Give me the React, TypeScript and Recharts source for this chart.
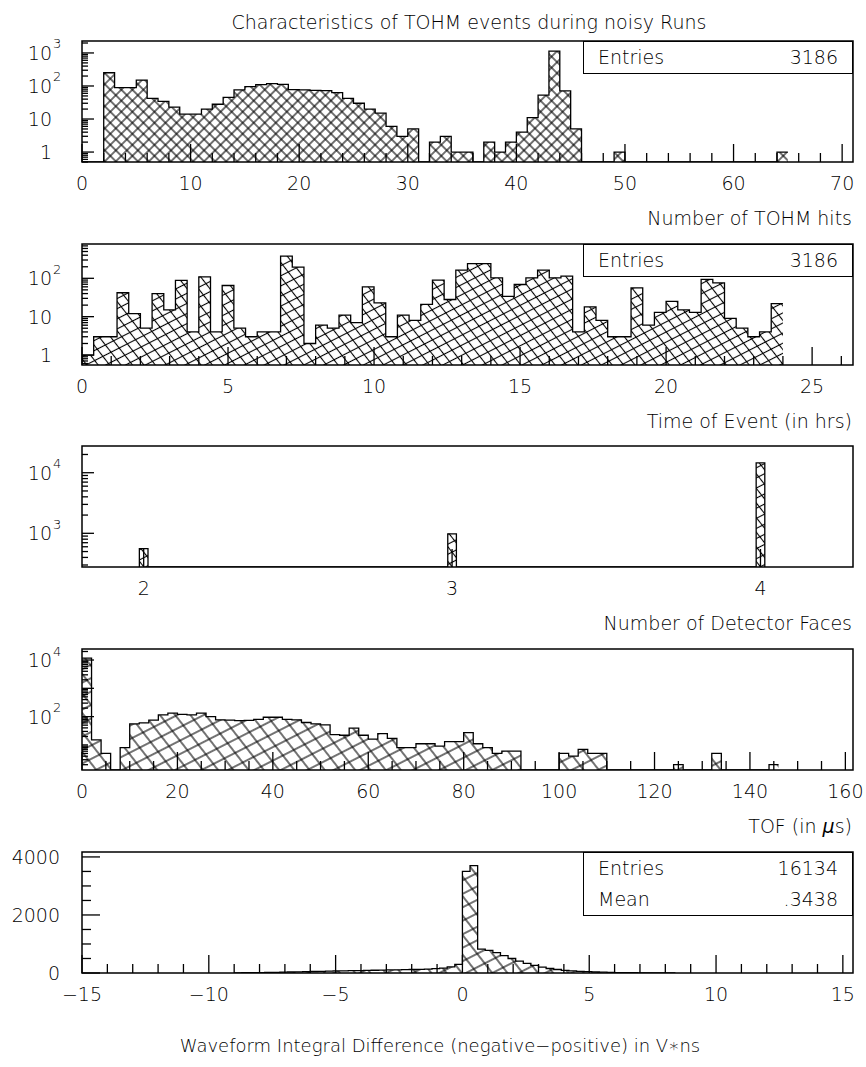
import React from 'react';
import { ComposedChart, Area, XAxis, YAxis, ReferenceArea } from 'recharts';

const FONT = '"DejaVu Sans", "DejaVu Sans Condensed", sans-serif';
const FONT_WEIGHT = 200;
const W = 866;
const PLOT_LEFT = 82;
const PLOT_RIGHT = 853;
const FRAME_H = 121;
const PAD_TOP = 12;
const AXIS_H = 44;

// Number of TOHM hits: 1-hit bins from 0
const hitsStart = 0;
const hitsWidth = 1;
const hitsCounts = [
  0, 0, 252, 89, 89, 151, 42, 34, 23, 14,
  14, 20, 28, 45, 76, 95, 110, 118, 112, 78,
  76, 74, 72, 63, 42, 30, 20, 15, 6, 3,
  5, 0, 2, 3, 1, 1, 0, 2, 1, 2,
  4, 11, 53, 1135, 71, 5, 0, 0, 0, 1,
  0, 0, 0, 0, 0, 0, 0, 0, 0, 0,
  0, 0, 0, 0, 1,
];
const hitsXMajor = [0, 10, 20, 30, 40, 50, 60, 70];
const hitsYMajor = [1, 10, 100, 1000];

// Time of event: 0.4 h bins from 0
const timeStart = 0;
const timeWidth = 0.4;
const timeCounts = [
  1, 3, 3, 42, 12, 5, 40, 15, 88, 4,
  109, 4, 65, 5, 3, 4, 4, 380, 195, 2,
  6, 5, 11, 7, 60, 23, 3, 11, 8, 21,
  90, 28, 164, 240, 240, 103, 34, 69, 103, 164,
  103, 114, 4, 18, 8, 3, 3, 56, 6, 13,
  25, 15, 13, 94, 76, 9, 5, 3, 4, 22,
];
const timeXMajor = [0, 5, 10, 15, 20, 25];
const timeYMajor = [1, 10, 100];

// Number of detector faces
const faces = [2, 3, 4];
const faceCounts = [560, 980, 14500];
const faceBinWidth = 0.028;
const facesXMajor = [2, 3, 4];
const facesYMajor = [1000, 10000];

// TOF: 2 us bins from 0
const tofStart = 0;
const tofWidth = 2;
const tofCounts = [
  11700, 15, 5, 0, 8, 55, 60, 75, 115, 132,
  120, 115, 132, 100, 77, 75, 72, 74, 80, 95,
  95, 80, 77, 62, 55, 51, 23, 22, 39, 22,
  16, 25, 17, 8, 8, 11, 11, 9, 13, 13,
  27, 11, 8, 5, 6, 6, 0, 0, 0, 0,
  5, 4, 7, 5, 5, 0, 0, 0, 0, 0,
  0, 0, 2, 0, 0, 0, 5, 0, 0, 0,
  0, 0, 2,
];
const tofXMajor = [0, 20, 40, 60, 80, 100, 120, 140, 160];
const tofYMajor = [100, 1000, 10000];
const tofYLabelled = [100, 10000];

// Waveform integral difference: 0.3 V*ns bins from -9
const waveStart = -9;
const waveWidth = 0.3;
const waveCounts = [
  5, 8, 10, 14, 18, 22, 28, 34, 40, 46,
  52, 58, 64, 70, 75, 80, 85, 90, 95, 100,
  105, 110, 115, 120, 125, 135, 150, 170, 210, 300,
  3500, 3700,
  820, 780, 700, 600, 500, 410, 330, 260, 200, 155,
  120, 92, 72, 56, 44, 34, 27, 21, 16, 12,
  9, 7, 5, 4, 3, 2,
];
const waveXMajor = [-15, -10, -5, 0, 5, 10, 15];
const waveYMajor = [0, 2000, 4000];

const range = (a: number, b: number, step: number) => {
  const out: number[] = [];
  for (let i = 0; a + i * step <= b + 1e-9; i++) out.push(Math.round((a + i * step) * 1000) / 1000);
  return out;
};

const logTicks = (lo: number, hi: number) => {
  const out: number[] = [];
  for (let d = Math.floor(Math.log10(lo)); d <= Math.ceil(Math.log10(hi)); d++) {
    for (let m = 1; m <= 9; m++) {
      const v = m * Math.pow(10, d);
      if (v >= lo && v <= hi) out.push(v);
    }
  }
  return out;
};

type Pt = { x: number; v: number };

// contiguous histogram outline: two points per bin
const stepPoints = (start: number, width: number, counts: number[], floor: number): Pt[] => {
  const pts: Pt[] = [];
  counts.forEach((c, i) => {
    const lo = start + i * width;
    const v = Math.max(c, floor);
    pts.push({ x: lo, v }, { x: lo + width, v });
  });
  return pts;
};

// isolated bins, dropping back to the floor between them
const spikePoints = (centres: number[], width: number, counts: number[], floor: number): Pt[] => {
  const pts: Pt[] = [];
  centres.forEach((c, i) => {
    const lo = c - width / 2;
    const hi = c + width / 2;
    pts.push({ x: lo, v: floor }, { x: lo, v: counts[i] }, { x: hi, v: counts[i] }, { x: hi, v: floor });
  });
  return pts;
};

const fmtX = (v: number) => (v < 0 ? '\u2212' + Math.abs(v) : String(v));

const txt = { fontFamily: FONT, fontWeight: FONT_WEIGHT, fill: '#000' };

const XTick = (props: any) => {
  const { x, y, payload, majors } = props;
  const major = majors.includes(payload.value);
  return (
    <g>
      <line x1={x} y1={y} x2={x} y2={y - (major ? 18 : 9)} stroke="#000" strokeWidth={1.3} />
      {major && (
        <text x={x} y={y + 21} textAnchor="middle" dominantBaseline="central" fontSize={19} {...txt}>
          {fmtX(payload.value)}
        </text>
      )}
    </g>
  );
};

const YTick = (props: any) => {
  const { x, y, payload, majors, labelled, log } = props;
  const v = payload.value;
  const major = majors.includes(v);
  const len = log ? (major ? 12 : 6) : major ? 18 : 9;
  let label: React.ReactNode = null;
  if (labelled.includes(v)) {
    if (log) {
      const e = Math.round(Math.log10(v));
      label =
        e <= 1 ? (
          <text x={x - 30} y={y} textAnchor="end" dominantBaseline="central" fontSize={19} {...txt}>
            {String(v)}
          </text>
        ) : (
          <g>
            <text x={x - 30} y={y} textAnchor="end" dominantBaseline="central" fontSize={19} {...txt}>
              10
            </text>
            <text x={x - 29} y={y - 9} textAnchor="start" dominantBaseline="central" fontSize={13} {...txt}>
              {e}
            </text>
          </g>
        );
    } else {
      label = (
        <text x={x - 22} y={y} textAnchor="end" dominantBaseline="central" fontSize={19} {...txt}>
          {String(v)}
        </text>
      );
    }
  }
  return (
    <g>
      <line x1={x} y1={y} x2={x + len} y2={y} stroke="#000" strokeWidth={1.3} />
      {label}
    </g>
  );
};

type Hatch = { a: number; b: number; gap: number };

type PanelProps = {
  id: string;
  top: number;
  data: Pt[];
  xDomain: [number, number];
  xTicks: number[];
  xMajor: number[];
  yScale: 'log' | 'linear';
  yDomain: [number, number];
  yTicks: number[];
  yMajor: number[];
  yLabelled: number[];
  hatch: Hatch;
};

function HistPanel(p: PanelProps) {
  const { id, top, data, xDomain, xTicks, xMajor, yScale, yDomain, yTicks, yMajor, yLabelled, hatch } = p;
  const log = yScale === 'log';
  return (
    <div style={{ position: 'absolute', left: 0, top: top - PAD_TOP }}>
      <ComposedChart
        width={W}
        height={PAD_TOP + FRAME_H + AXIS_H}
        data={data}
        margin={{ top: PAD_TOP, right: W - PLOT_RIGHT, bottom: 0, left: 0 }}
      >
        <defs>
          <pattern id={`${id}-a`} width={hatch.gap} height={hatch.gap} patternUnits="userSpaceOnUse" patternTransform={`rotate(${hatch.a})`}>
            <line x1={0} y1={hatch.gap / 2} x2={hatch.gap} y2={hatch.gap / 2} stroke="#000" strokeWidth={1.1} />
          </pattern>
          <pattern id={`${id}-b`} width={hatch.gap} height={hatch.gap} patternUnits="userSpaceOnUse" patternTransform={`rotate(${hatch.b})`}>
            <line x1={0} y1={hatch.gap / 2} x2={hatch.gap} y2={hatch.gap / 2} stroke="#000" strokeWidth={1.1} />
          </pattern>
        </defs>
        <XAxis
          type="number"
          dataKey="x"
          domain={xDomain}
          allowDataOverflow
          ticks={xTicks}
          interval={0}
          tickSize={0}
          tickMargin={0}
          axisLine={false}
          tickLine={false}
          height={AXIS_H}
          tick={(t: any) => <XTick {...t} majors={xMajor} />}
        />
        <YAxis
          type="number"
          scale={yScale}
          domain={yDomain}
          allowDataOverflow
          ticks={yTicks}
          interval={0}
          tickSize={0}
          tickMargin={0}
          axisLine={false}
          tickLine={false}
          width={PLOT_LEFT}
          tick={(t: any) => <YTick {...t} majors={yMajor} labelled={yLabelled} log={log} />}
        />
        <Area
          type="linear"
          dataKey="v"
          baseValue={yDomain[0]}
          stroke="none"
          fill={`url(#${id}-a)`}
          fillOpacity={1}
          dot={false}
          activeDot={false}
          isAnimationActive={false}
        />
        <Area
          type="linear"
          dataKey="v"
          baseValue={yDomain[0]}
          stroke="#000"
          strokeWidth={1.3}
          fill={`url(#${id}-b)`}
          fillOpacity={1}
          dot={false}
          activeDot={false}
          isAnimationActive={false}
        />
        <ReferenceArea
          x1={xDomain[0]}
          x2={xDomain[1]}
          y1={yDomain[0]}
          y2={yDomain[1]}
          fill="none"
          stroke="#000"
          strokeWidth={1.5}
          ifOverflow="visible"
        />
      </ComposedChart>
    </div>
  );
}

function StatBox({ top, rows }: { top: number; rows: [string, string][] }) {
  return (
    <div
      style={{
        position: 'absolute',
        left: 583,
        top,
        width: PLOT_RIGHT - 583,
        boxSizing: 'border-box',
        border: '1.5px solid #000',
        background: '#fff',
        fontFamily: FONT,
        fontWeight: FONT_WEIGHT,
        fontSize: 19,
      }}
    >
      {rows.map(([k, v]) => (
        <div key={k} style={{ display: 'flex', justifyContent: 'space-between', height: 31, lineHeight: '31px', padding: '0 14px' }}>
          <span>{k}</span>
          <span>{v}</span>
        </div>
      ))}
    </div>
  );
}

const AxisTitle = ({ top, children }: { top: number; children: React.ReactNode }) => (
  <div
    style={{
      position: 'absolute',
      right: W - 852,
      top: top - 12,
      fontFamily: FONT,
      fontWeight: FONT_WEIGHT,
      fontSize: 19,
      lineHeight: '24px',
      whiteSpace: 'nowrap',
    }}
  >
    {children}
  </div>
);

const TOPS = [41, 244, 446, 649, 852];

export default function App() {
  const hitsY: [number, number] = [0.5, 2300];
  const timeY: [number, number] = [0.55, 784];
  const facesY: [number, number] = [278, 27600];
  const tofY: [number, number] = [1.3, 24500];
  const waveY: [number, number] = [0, 4170];

  const crossHatch = { a: 45, b: -45, gap: 7.8 };
  const fineHatch = { a: -27, b: 52, gap: 9 };
  const wideHatch = { a: -27, b: 52, gap: 12 };

  const heading = { fontFamily: FONT, fontWeight: FONT_WEIGHT, fontSize: 19, lineHeight: '24px' };

  return (
    <div style={{ position: 'absolute', left: 0, top: 0, width: W, height: 1067, background: '#fff', color: '#000' }}>
      <div style={{ position: 'absolute', left: 0, width: 938, top: 10, textAlign: 'center', ...heading }}>
        Characteristics of TOHM events during noisy Runs
      </div>

      <HistPanel
        id="hits"
        top={TOPS[0]}
        data={stepPoints(hitsStart, hitsWidth, hitsCounts, hitsY[0])}
        xDomain={[0, 71]}
        xTicks={range(0, 70, 2)}
        xMajor={hitsXMajor}
        yScale="log"
        yDomain={hitsY}
        yTicks={logTicks(hitsY[0], hitsY[1])}
        yMajor={hitsYMajor}
        yLabelled={hitsYMajor}
        hatch={crossHatch}
      />
      <StatBox top={TOPS[0]} rows={[['Entries', '3186']]} />
      <AxisTitle top={218}>Number of TOHM hits</AxisTitle>

      <HistPanel
        id="time"
        top={TOPS[1]}
        data={stepPoints(timeStart, timeWidth, timeCounts, timeY[0])}
        xDomain={[0, 26.4]}
        xTicks={range(0, 26, 1)}
        xMajor={timeXMajor}
        yScale="log"
        yDomain={timeY}
        yTicks={logTicks(timeY[0], timeY[1])}
        yMajor={timeYMajor}
        yLabelled={timeYMajor}
        hatch={fineHatch}
      />
      <StatBox top={TOPS[1]} rows={[['Entries', '3186']]} />
      <AxisTitle top={421}>Time of Event (in hrs)</AxisTitle>

      <HistPanel
        id="faces"
        top={TOPS[2]}
        data={spikePoints(faces, faceBinWidth, faceCounts, facesY[0])}
        xDomain={[1.8, 4.3]}
        xTicks={facesXMajor}
        xMajor={facesXMajor}
        yScale="log"
        yDomain={facesY}
        yTicks={logTicks(facesY[0], facesY[1])}
        yMajor={facesYMajor}
        yLabelled={facesYMajor}
        hatch={fineHatch}
      />
      <AxisTitle top={623}>Number of Detector Faces</AxisTitle>

      <HistPanel
        id="tof"
        top={TOPS[3]}
        data={stepPoints(tofStart, tofWidth, tofCounts, tofY[0])}
        xDomain={[0, 161.6]}
        xTicks={range(0, 160, 5)}
        xMajor={tofXMajor}
        yScale="log"
        yDomain={tofY}
        yTicks={logTicks(tofY[0], tofY[1])}
        yMajor={tofYMajor}
        yLabelled={tofYLabelled}
        hatch={wideHatch}
      />
      <AxisTitle top={826}>
        TOF (in <span style={{ fontStyle: 'italic' }}>μ</span>s)
      </AxisTitle>

      <HistPanel
        id="wave"
        top={TOPS[4]}
        data={stepPoints(waveStart, waveWidth, waveCounts, waveY[0])}
        xDomain={[-15, 15.4]}
        xTicks={range(-15, 15, 1)}
        xMajor={waveXMajor}
        yScale="linear"
        yDomain={waveY}
        yTicks={range(0, 4000, 500)}
        yMajor={waveYMajor}
        yLabelled={waveYMajor}
        hatch={wideHatch}
      />
      <StatBox top={TOPS[4]} rows={[['Entries', '16134'], ['Mean', '.3438']]} />

      <div style={{ position: 'absolute', left: 0, width: 880, top: 1034, textAlign: 'center', ...heading, fontSize: 18 }}>
        Waveform Integral Difference (negative{'\u2212'}positive) in V{'\u2217'}ns
      </div>
    </div>
  );
}
